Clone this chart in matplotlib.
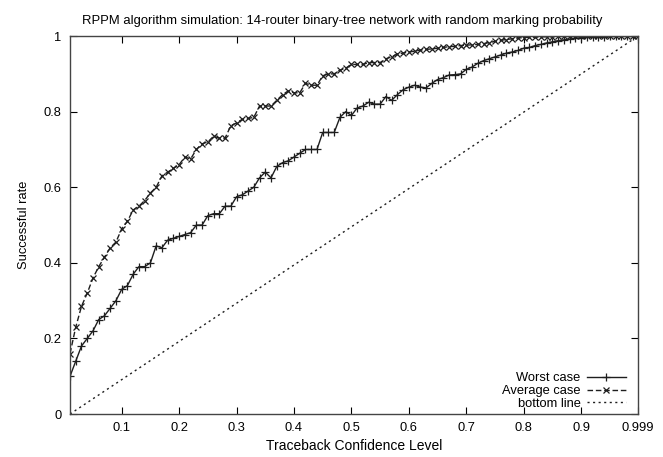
import matplotlib.pyplot as plt

# x values: confidence levels
conf = [round(0.01 * i, 2) for i in range(1, 100)] + [0.999]

worst = [
    0.10, 0.14, 0.18, 0.20, 0.22, 0.25, 0.26, 0.28, 0.30, 0.33,
    0.34, 0.37, 0.39, 0.39, 0.40, 0.445, 0.44, 0.46, 0.465, 0.47,
    0.475, 0.48, 0.50, 0.50, 0.525, 0.53, 0.53, 0.55, 0.55, 0.575,
    0.58, 0.59, 0.60, 0.625, 0.64, 0.625, 0.655, 0.665, 0.67, 0.68,
    0.69, 0.70, 0.70, 0.70, 0.745, 0.745, 0.745, 0.785, 0.80, 0.79,
    0.81, 0.815, 0.825, 0.82, 0.82, 0.84, 0.83, 0.845, 0.858, 0.865,
    0.87, 0.865, 0.863, 0.875, 0.885, 0.89, 0.897, 0.898, 0.90, 0.912,
    0.918, 0.928, 0.935, 0.94, 0.945, 0.95, 0.955, 0.958, 0.962, 0.968,
    0.97, 0.975, 0.978, 0.982, 0.985, 0.988, 0.99, 0.992, 0.994, 0.996,
    0.997, 0.997, 0.998, 0.998, 0.999, 0.999, 1.0, 1.0, 1.0, 1.0,
]

average = [
    0.16, 0.23, 0.285, 0.32, 0.36, 0.39, 0.415, 0.44, 0.455, 0.49,
    0.51, 0.54, 0.55, 0.565, 0.585, 0.60, 0.63, 0.64, 0.65, 0.66,
    0.68, 0.675, 0.70, 0.715, 0.72, 0.735, 0.73, 0.73, 0.763, 0.77,
    0.78, 0.782, 0.785, 0.815, 0.815, 0.815, 0.83, 0.845, 0.855, 0.85,
    0.85, 0.875, 0.87, 0.87, 0.895, 0.90, 0.90, 0.91, 0.915, 0.925,
    0.925, 0.925, 0.93, 0.93, 0.93, 0.94, 0.945, 0.953, 0.955, 0.958,
    0.96, 0.963, 0.965, 0.966, 0.968, 0.97, 0.972, 0.973, 0.975, 0.976,
    0.977, 0.978, 0.98, 0.983, 0.986, 0.989, 0.991, 0.993, 0.995, 0.996,
    0.997, 0.997, 0.998, 0.998, 0.998, 0.999, 0.999, 0.999, 0.999, 1.0,
    1.0, 1.0, 1.0, 1.0, 1.0, 1.0, 1.0, 1.0, 1.0, 1.0,
]

bottom_x = [0.01, 0.999]
bottom_y = [0.0, 1.0]

xticks = [0.1, 0.2, 0.3, 0.4, 0.5, 0.6, 0.7, 0.8, 0.9, 0.999]
xtick_labels = ["0.1", "0.2", "0.3", "0.4", "0.5", "0.6", "0.7", "0.8", "0.9", "0.999"]
yticks = [0, 0.2, 0.4, 0.6, 0.8, 1.0]
ytick_labels = ["0", "0.2", "0.4", "0.6", "0.8", "1"]

plt.rcParams['font.family'] = ['Liberation Sans', 'DejaVu Sans']

fig = plt.figure(figsize=(6.63, 4.57), dpi=100)
ax = fig.add_axes([0.1056, 0.094, 0.8567, 0.827])

col = '#1e1e1e'
ax.plot(conf, worst, color=col, lw=1.0, marker='+', ms=6, mew=0.9,
        label='Worst case')
ax.plot(conf, average, color=col, lw=1.0, ls=(0, (4, 2)), marker='x', ms=5,
        mew=0.9, label='Average case')
ax.plot(bottom_x, bottom_y, color=col, lw=1.0, ls=(0, (1.5, 2.5)),
        label='bottom line')

ax.set_xlim(0.01, 0.999)
ax.set_ylim(0, 1)
ax.set_xticks(xticks)
ax.set_xticklabels(xtick_labels)
ax.set_yticks(yticks)
ax.set_yticklabels(ytick_labels)
ax.tick_params(direction='in', top=True, right=True, length=5, width=0.8,
               labelsize=9.3, pad=6)
for s in ax.spines.values():
    s.set_linewidth(1.0)
    s.set_color('#444444')

ax.set_title('RPPM algorithm simulation: 14-router binary-tree network with random marking probability',
             fontsize=9.4, pad=9, x=0.48)
ax.set_xlabel('Traceback Confidence Level', fontsize=10, labelpad=3)
ax.set_ylabel('Successful rate', fontsize=9.3, labelpad=10)

leg = ax.legend(loc='lower right', frameon=False, markerfirst=False,
                fontsize=9.3, handlelength=3.0, handletextpad=0.5,
                labelspacing=0.05, borderaxespad=0.1,
                bbox_to_anchor=(0.99, -0.006))
for t in leg.get_texts():
    t.set_ha('right')

fig.savefig('out.png', dpi=100)
